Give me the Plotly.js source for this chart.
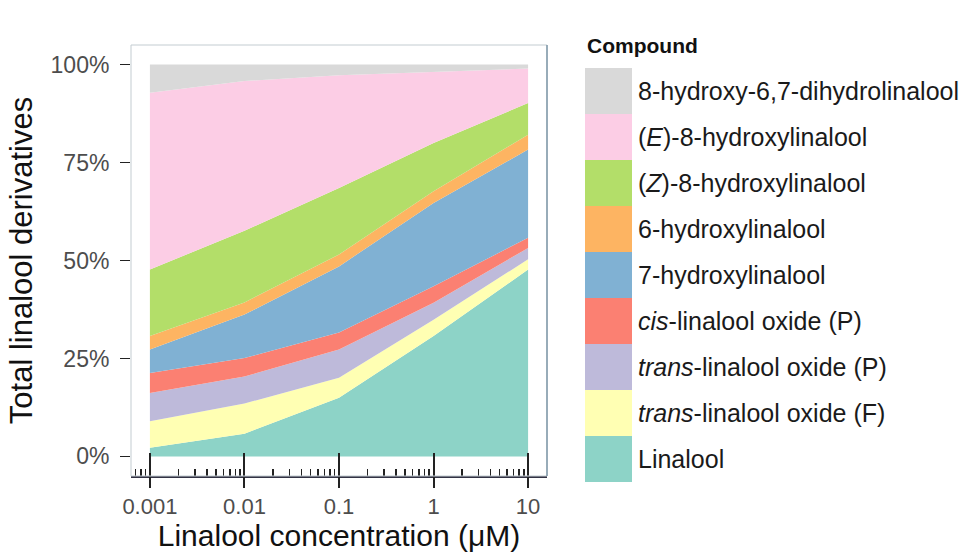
<!DOCTYPE html>
<html>
<head>
<meta charset="utf-8">
<script src="https://cdn.plot.ly/plotly-3.0.1.min.js"></script>
<style>html,body{margin:0;padding:0;background:#fff;}#chart{width:969px;height:553px;}</style>
</head>
<body>
<div id="chart"></div>
<script>
// ---- data (percent of total linalool derivatives) ----
const concentrations = [0.001, 0.01, 0.1, 1, 10];
const linalool      = [2.2, 5.8, 15.0, 30.7, 47.7];
const transOxideF   = [6.8, 7.7, 5.1, 4.2, 2.6];
const transOxideP   = [7.2, 6.9, 7.2, 4.3, 2.9];
const cisOxideP     = [5.1, 4.7, 4.3, 4.2, 2.6];
const hydroxy7      = [6.0, 11.1, 16.9, 21.3, 22.5];
const hydroxy6      = [3.4, 3.1, 3.0, 3.0, 3.8];
const hydroxy8Z     = [17.0, 18.3, 17.0, 12.3, 8.1];
const hydroxy8E     = [45.1, 38.2, 28.8, 18.2, 8.8];
const dihydro       = [7.2, 4.2, 2.7, 1.8, 1.0];

// stacking order: bottom to top
const seriesNames = ['Linalool', 'trans-linalool oxide (F)', 'trans-linalool oxide (P)', 'cis-linalool oxide (P)',
  '7-hydroxylinalool', '6-hydroxylinalool', '(Z)-8-hydroxylinalool', '(E)-8-hydroxylinalool', '8-hydroxy-6,7-dihydrolinalool'];
const seriesLabels = ['Linalool', '<i>trans</i>-linalool oxide (F)', '<i>trans</i>-linalool oxide (P)', '<i>cis</i>-linalool oxide (P)',
  '7-hydroxylinalool', '6-hydroxylinalool', '(<i>Z</i>)-8-hydroxylinalool', '(<i>E</i>)-8-hydroxylinalool', '8-hydroxy-6,7-dihydrolinalool'];
const seriesValues = [linalool, transOxideF, transOxideP, cisOxideP, hydroxy7, hydroxy6, hydroxy8Z, hydroxy8E, dihydro];
const seriesColors = ['#8DD3C7', '#FFFFB3', '#BEBADA', '#FB8072', '#80B1D3', '#FDB462', '#B3DE69', '#FCCDE5', '#D9D9D9'];

const xTickVals = [0.001, 0.01, 0.1, 1, 10];
const xTickText = ['0.001', '0.01', '0.1', '1', '10'];
const yTickVals = [0, 25, 50, 75, 100];
const yTickText = ['0%', '25%', '50%', '75%', '100%'];

// minor log ticks (axis decoration)
const minorTicks = [];
for (let e = -4; e <= 1; e++) {
  for (let d = 2; d <= 9; d++) minorTicks.push(d * Math.pow(10, e));
}

const FONT = 'Liberation Sans, Arial, Helvetica, sans-serif';

const traces = seriesValues.map((vals, i) => ({
  type: 'scatter',
  x: concentrations,
  y: vals,
  name: seriesNames[i],
  stackgroup: 'one',
  mode: 'lines',
  line: {width: 0, color: seriesColors[i]},
  fillcolor: seriesColors[i],
  showlegend: false,
  hoverinfo: 'x+y+name'
}));
// dummy trace so the overlay axis (outside ticks + labels) is drawn
traces.push({type: 'scatter', x: [1], y: [null], xaxis: 'x2', mode: 'markers', showlegend: false, hoverinfo: 'skip'});

// plot area geometry in pixels
const L = 131, R = 547, T = 45, B = 476;
const px2x = p => (p - L) / (R - L);
const px2y = p => (B - p) / (B - T);

const shapes = [
  {type: 'rect', xref: 'paper', yref: 'paper', x0: 0, x1: 1, y0: 0, y1: 1, line: {color: '#c3ccd1', width: 1}, layer: 'above'},
  {type: 'line', xref: 'paper', yref: 'paper', x0: 1, x1: 1, y0: 0, y1: 1, line: {color: '#7f98aa', width: 1.5}, layer: 'above'}
];
const annotations = [{
  xref: 'paper', yref: 'paper', x: px2x(585), y: px2y(46), xanchor: 'left', yanchor: 'middle',
  text: '<b>Compound</b>', showarrow: false, font: {family: FONT, size: 21, color: '#111'}
}];
// manual legend: top to bottom is reverse stacking order
const keyTop = 68, keyH = 46;
for (let k = 0; k < seriesNames.length; k++) {
  const i = seriesNames.length - 1 - k;
  const top = keyTop + k * keyH;
  shapes.push({type: 'rect', xref: 'paper', yref: 'paper', x0: px2x(585), x1: px2x(632), y0: px2y(top + keyH), y1: px2y(top),
    fillcolor: seriesColors[i], line: {width: 0}});
  annotations.push({xref: 'paper', yref: 'paper', x: px2x(636), y: px2y(top + keyH / 2), xanchor: 'left', yanchor: 'middle',
    text: seriesLabels[i], showarrow: false, font: {family: FONT, size: 25, color: '#1a1a1a'}});
}

const layout = {
  width: 969, height: 553,
  margin: {l: L, r: 969 - R, t: T, b: 553 - B, pad: 0},
  paper_bgcolor: '#fff', plot_bgcolor: '#fff',
  font: {family: FONT},
  showlegend: false,
  xaxis: {
    type: 'log', range: [-3.2, 1.2], tickmode: 'array', tickvals: xTickVals, ticktext: xTickText,
    ticks: 'inside', ticklen: 23, tickwidth: 2, tickcolor: '#222', showticklabels: false,
    showline: true, linecolor: '#334', linewidth: 1.5, showgrid: false, zeroline: false,
    minor: {tickmode: 'array', tickvals: minorTicks, ticks: 'inside', ticklen: 7, tickwidth: 1.5, tickcolor: '#222', showgrid: false}
  },
  xaxis2: {
    overlaying: 'x', anchor: 'y', side: 'bottom',
    type: 'log', range: [-3.2, 1.2], tickmode: 'array', tickvals: xTickVals, ticktext: xTickText,
    ticks: 'outside', ticklen: 11, tickwidth: 2, tickcolor: '#222',
    tickfont: {family: FONT, size: 22, color: '#4d4d4d'}, ticklabelstandoff: 0,
    showgrid: false, zeroline: false, showline: false,
    title: {text: 'Linalool concentration (μM)', font: {family: FONT, size: 30, color: '#111'}, standoff: 4}
  },
  yaxis: {
    range: [-5, 105], tickmode: 'array', tickvals: yTickVals, ticktext: yTickText,
    ticks: 'outside', ticklen: 10, tickwidth: 1.5, tickcolor: '#222',
    tickfont: {family: FONT, size: 23, color: '#4d4d4d'}, ticklabelstandoff: 6,
    showgrid: false, zeroline: false, showline: false,
    title: {text: 'Total linalool derivatives', font: {family: FONT, size: 31, color: '#111'}, standoff: 8}
  },
  shapes: shapes,
  annotations: annotations
};

Plotly.newPlot('chart', traces, layout, {displayModeBar: false, staticPlot: true});
</script>
</body>
</html>
